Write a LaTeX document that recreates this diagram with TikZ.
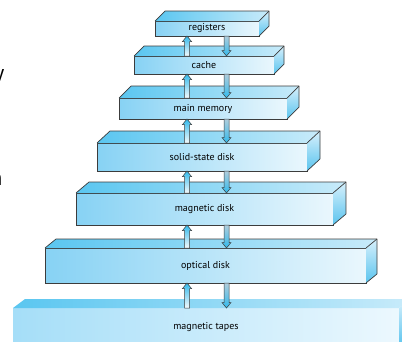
\documentclass[tikz,border=0pt]{standalone}
\usepackage{fontspec}
\setmainfont{PT Sans}
\usetikzlibrary{calc}
\definecolor{frontL}{RGB}{135,210,244}
\definecolor{frontR}{RGB}{234,247,253}
\definecolor{topL}{RGB}{90,198,240}
\definecolor{topR}{RGB}{200,235,250}
\definecolor{sideT}{RGB}{215,240,252}
\definecolor{sideB}{RGB}{90,196,238}
\definecolor{edge}{RGB}{60,60,60}
\definecolor{tapeL}{RGB}{165,222,248}
\definecolor{tapeR}{RGB}{236,248,254}
\definecolor{arrhead}{RGB}{50,185,235}
\definecolor{arrtailup}{RGB}{245,250,252}
\definecolor{arrtaildn}{RGB}{175,205,220}
\begin{document}
\begin{tikzpicture}[x=1pt,y=-1pt,
  frontface/.style={draw=edge,line width=0.7pt,left color=frontL,right color=frontR,inner sep=0pt,outer sep=0pt,font=\fontsize{10}{12}\selectfont},
  tapeface/.style={left color=tapeL,right color=tapeR,inner sep=0pt,outer sep=0pt,font=\fontsize{10}{12}\selectfont},
  topface/.style={left color=topL,right color=topR},
  sideface/.style={top color=sideT,bottom color=sideB},
  outline/.style={draw=edge,line width=0.7pt,line join=round},
  arrowbody/.style={draw=edge,line width=0.5pt,line join=miter},
  frag/.style={inner sep=0pt,font=\fontsize{22}{24}\selectfont}]
\useasboundingbox (0,0) rectangle (402,341);
\newcommand\tier[9]{%
  % #1 name, #2 L, #3 T, #4 R, #5 B, #6 dx, #7 dy, #8 style, #9 text
  \node[#8,minimum width={(#4-#2)*1pt},minimum height={(#5-#3)*1pt}] (#1) at ({(#2+#4)/2},{(#3+#5)/2}) {#9};
  \shade[topface] (#1.north west) -- ([shift={(#6,-#7)}]#1.north west) -- ([shift={(#6,-#7)}]#1.north east) -- (#1.north east) -- cycle;
  \shade[sideface] (#1.north east) -- ([shift={(#6,-#7)}]#1.north east) -- ([shift={(#6,-#7)}]#1.south east) -- (#1.south east) -- cycle;
}
\newcommand\tieroutline[3]{%
  \draw[outline] (#1.north west) -- ([shift={(#2,-#3)}]#1.north west) -- ([shift={(#2,-#3)}]#1.north east) -- ([shift={(#2,-#3)}]#1.south east) -- (#1.south east);
  \draw[outline] (#1.north east) -- ([shift={(#2,-#3)}]#1.north east);
}
% up arrow from lower node #1 to upper node #2 at x=#3
\newcommand\arrup[3]{%
  \shade[arrowbody,bottom color=arrtailup,top color=arrhead]
    let \p1=(#3,0 |- #1.north), \p2=(#3,0 |- #2.south) in
    (\x1-2.5pt,\y1) -- (\x1-2.5pt,\y2-5.5pt) -- (\x1-4.5pt,\y2-5.5pt) -- (\x2,\y2)
    -- (\x1+4.5pt,\y2-5.5pt) -- (\x1+2.5pt,\y2-5.5pt) -- (\x1+2.5pt,\y1) -- cycle;
}
% down arrow from upper node #1 to lower node #2 at x=#3
\newcommand\arrdown[3]{%
  \shade[arrowbody,top color=arrtaildn,bottom color=arrhead]
    let \p1=(#3,0 |- #1.south), \p2=(#3,0 |- #2.north) in
    (\x1-2.5pt,\y1) -- (\x1-2.5pt,\y2+5.5pt) -- (\x1-4.5pt,\y2+5.5pt) -- (\x2,\y2)
    -- (\x1+4.5pt,\y2+5.5pt) -- (\x1+2.5pt,\y2+5.5pt) -- (\x1+2.5pt,\y1) -- cycle;
}
% tiers
\tier{tapes}{13}{308}{399}{346}{12}{9}{tapeface}{magnetic tapes}
\tier{optical}{45}{248}{366}{283}{11}{9}{frontface}{optical disk}
\tieroutline{optical}{11}{9}
\tier{magnetic}{76}{193}{333}{225}{13}{11}{frontface}{magnetic disk}
\tieroutline{magnetic}{13}{11}
\tier{solid}{97}{143}{307}{171}{13}{12}{frontface}{solid-state disk}
\tieroutline{solid}{13}{12}
\tier{main}{119}{98}{287}{119}{12}{12}{frontface}{main memory}
\tieroutline{main}{12}{12}
\tier{cache}{134}{56}{274}{74}{10}{10}{frontface}{cache}
\tieroutline{cache}{10}{10}
\tier{registers}{155}{21}{259}{36}{10}{10}{frontface}{registers}
\tieroutline{registers}{10}{10}
% arrows
\arrup{cache}{registers}{187}
\arrdown{registers}{cache}{226.5}
\arrup{main}{cache}{187}
\arrdown{cache}{main}{226.5}
\arrup{solid}{main}{187}
\arrdown{main}{solid}{226.5}
\arrup{magnetic}{solid}{187}
\arrdown{solid}{magnetic}{226.5}
\arrup{optical}{magnetic}{187}
\arrdown{magnetic}{optical}{226.5}
\arrup{tapes}{optical}{187}
\arrdown{optical}{tapes}{226.5}
% cropped text fragments at the left edge, as in the reference
\node[frag,anchor=base east] (fragy) at (4.5,80) {y};
\node[frag,anchor=base east] (fragn) at (2.5,185) {n};
\end{tikzpicture}
\end{document}
